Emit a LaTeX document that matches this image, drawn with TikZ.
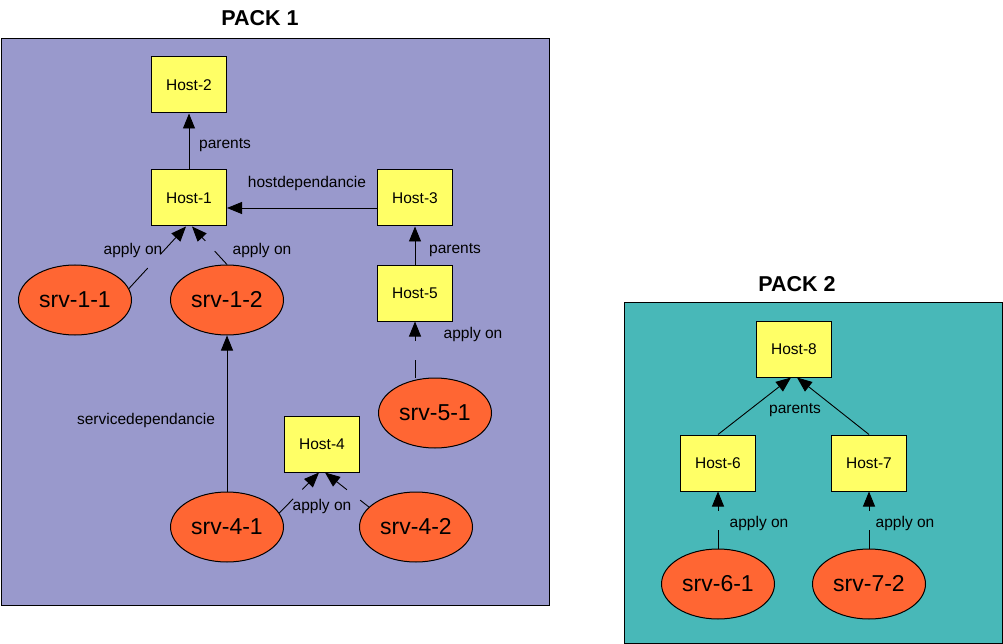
\documentclass[tikz,border=0pt]{standalone}
\usepackage{fontspec}
\setmainfont{Liberation Sans}
\usetikzlibrary{shapes.geometric,arrows.meta,calc}
\definecolor{packone}{RGB}{153,153,204}
\definecolor{packtwo}{RGB}{72,184,184}
\definecolor{hostyellow}{RGB}{255,255,102}
\definecolor{srvorange}{RGB}{255,102,51}
\tikzset{
  host/.style={draw, line width=1pt, fill=hostyellow, minimum width=75pt, minimum height=56pt, inner sep=0pt, font=\fontsize{15.5}{17}\selectfont},
  srv/.style={ellipse, draw, line width=1pt, fill=srvorange, minimum width=113pt, minimum height=70pt, inner sep=0pt, font=\fontsize{23}{25}\selectfont},
  frame/.style={draw, line width=1pt},
  title/.style={font=\fontsize{21.5}{23}\selectfont\bfseries},
  lbl/.style={font=\fontsize{15.5}{17}\selectfont, inner sep=0pt},
  edge/.style={line width=0.9pt},
  arr/.style={line width=0.9pt, -{Triangle[length=15pt,width=12pt]}}
}
\begin{document}
\begin{tikzpicture}[x=1pt,y=-1pt]
\useasboundingbox (0,0) rectangle (1003,644);
% frames
\node[frame, fill=packone, minimum width=548pt, minimum height=567pt, anchor=north west, inner sep=0pt] (pack1) at (0.5,38) {};
\node[frame, fill=packtwo, minimum width=378pt, minimum height=341pt, anchor=north west, inner sep=0pt] (pack2) at (624,302) {};
\node[title] (t1) at (260,18) {PACK 1};
\node[title] (t2) at (797,284) {PACK 2};
% hosts
\node[host] (h2) at (189,85) {Host-2};
\node[host] (h1) at (189,198) {Host-1};
\node[host] (h3) at (415,198) {Host-3};
\node[host] (h5) at (415,293) {Host-5};
\node[host] (h4) at (322,444) {Host-4};
\node[host] (h8) at (794,349) {Host-8};
\node[host] (h6) at (718,463) {Host-6};
\node[host] (h7) at (869,463) {Host-7};
% services
\node[srv] (s11) at (75,300) {srv-1-1};
\node[srv] (s12) at (227,300) {srv-1-2};
\node[srv] (s51) at (435,413) {srv-5-1};
\node[srv] (s41) at (227,527) {srv-4-1};
\node[srv] (s42) at (416,527) {srv-4-2};
\node[srv] (s61) at (718,584) {srv-6-1};
\node[srv] (s72) at (869,584) {srv-7-2};
% tip coordinates
\coordinate (h1l) at ([xshift=-3pt]h1.south);
\coordinate (h1r) at ([xshift=3pt]h1.south);
\coordinate (h4l) at ([xshift=-3pt]h4.south);
\coordinate (h4r) at ([xshift=3pt]h4.south);
\coordinate (h8l) at ([xshift=-3pt]h8.south);
\coordinate (h8r) at ([xshift=3pt]h8.south);
\coordinate (s11a) at (s11.12);
\coordinate (s41a) at (s41.15);
\coordinate (s42a) at (s42.157);
\coordinate (s51a) at (s51.north -| h5.south);
% parents / dependencies
\draw[arr] (h1.north) -- (h2.south);
\node[lbl] (lp1) at (225,145) {parents};
\draw[arr] ([yshift=-10pt]h3.west) -- ([yshift=-10pt]h1.east);
\node[lbl] (lhd) at (307,183) {hostdependancie};
\draw[arr] (h5.north) -- (h3.south);
\node[lbl] (lp2) at (455,250) {parents};
\draw[arr] (s41.north) -- (s12.south);
\node[lbl] (lsd) at (146,420) {servicedependancie};
\draw[arr] (h6.north) -- (h8l);
\draw[arr] (h7.north) -- (h8r);
\node[lbl] (lp3) at (795,410) {parents};
% apply on (broken lines)
\draw[edge] (s11a) -- ($(s11a)!0.33!(h1l)$);
\draw[arr] ($(s11a)!0.55!(h1l)$) -- (h1l);
\node[lbl] (la1) at (133,250) {apply on};
\draw[edge] (s12.north) -- ($(s12.north)!0.35!(h1r)$);
\draw[arr] ($(s12.north)!0.62!(h1r)$) -- (h1r);
\node[lbl] (la2) at (262,250) {apply on};
\draw[edge] (s51a) -- ($(s51a)!0.32!(h5.south)$);
\draw[arr] ($(s51a)!0.66!(h5.south)$) -- (h5.south);
\node[lbl] (la3) at (473,334) {apply on};
\draw[edge] (s41a) -- ($(s41a)!0.35!(h4l)$);
\draw[arr] ($(s41a)!0.58!(h4l)$) -- (h4l);
\draw[edge] (s42a) -- ($(s42a)!0.2!(h4r)$);
\draw[arr] ($(s42a)!0.5!(h4r)$) -- (h4r);
\node[lbl] (la4) at (322,506) {apply on};
\draw[edge] (s61.north) -- ($(s61.north)!0.33!(h6.south)$);
\draw[arr] ($(s61.north)!0.66!(h6.south)$) -- (h6.south);
\node[lbl] (la5) at (759,523) {apply on};
\draw[edge] (s72.north) -- ($(s72.north)!0.33!(h7.south)$);
\draw[arr] ($(s72.north)!0.66!(h7.south)$) -- (h7.south);
\node[lbl] (la6) at (905,523) {apply on};
\end{tikzpicture}
\end{document}
